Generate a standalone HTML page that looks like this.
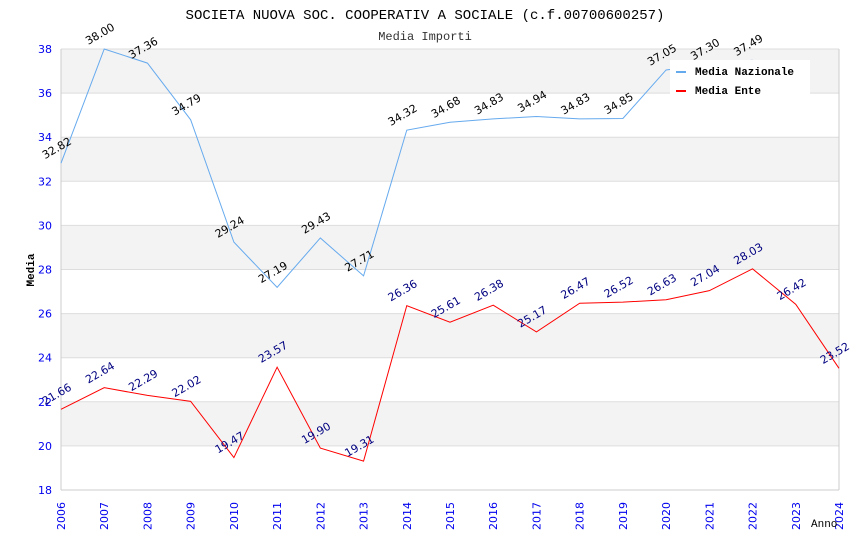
<!DOCTYPE html>
<html><head><meta charset="utf-8"><style>
body{margin:0;background:#fff}
svg{display:block;font-family:"DejaVu Sans","Liberation Sans",sans-serif}
</style></head><body>
<svg id="c" width="850" height="550">
<text x="425" y="19" text-anchor="middle" font-family="Liberation Mono, monospace" font-size="14" fill="#000">SOCIETA NUOVA SOC. COOPERATIV A SOCIALE (c.f.00700600257)</text>
<text x="425" y="40" text-anchor="middle" font-family="Liberation Mono, monospace" font-size="12" fill="#333">Media Importi</text>
<g id="bands"></g><g id="grid"></g><g id="axes"></g><g id="series"></g><g id="labels"></g>
<text x="34" y="270" transform="rotate(-90 34 270)" text-anchor="middle" font-family="Liberation Mono, monospace" font-weight="bold" font-size="11">Media</text>
<text x="811" y="527" font-family="Liberation Mono, monospace" font-size="11">Anno</text>
<g>
<rect x="670" y="60" width="140" height="40" fill="#fff"/>
<line x1="676" y1="72" x2="686" y2="72" stroke="#66aaee" stroke-width="2"/>
<text x="695" y="75" font-family="Liberation Mono, monospace" font-weight="bold" font-size="11">Media Nazionale</text>
<line x1="676" y1="91" x2="686" y2="91" stroke="#ff0000" stroke-width="2"/>
<text x="695" y="94" font-family="Liberation Mono, monospace" font-weight="bold" font-size="11">Media Ente</text>
</g>
</svg>
<script>
const years=[2006,2007,2008,2009,2010,2011,2012,2013,2014,2015,2016,2017,2018,2019,2020,2021,2022,2023,2024];
const nazionale=[32.82,38.00,37.36,34.79,29.24,27.19,29.43,27.71,34.32,34.68,34.83,34.94,34.83,34.85,37.05,37.3,37.49,null,null];
const ente=[21.66,22.64,22.29,22.02,19.47,23.57,19.90,19.31,26.36,25.61,26.38,25.17,26.47,26.52,26.63,27.04,28.03,26.42,23.52];
const yTicks=[18,20,22,24,26,28,30,32,34,36,38];
const X0=61,X1=839,Y0=490,Y1=49,ymin=18,ymax=38;
const xs=i=>X0+(X1-X0)*i/(years.length-1);
const ys=v=>Y0-(v-ymin)/(ymax-ymin)*(Y0-Y1);
const NS="http://www.w3.org/2000/svg";
function mk(p,t,a){const e=document.createElementNS(NS,t);for(const k in a)e.setAttribute(k,a[k]);p.appendChild(e);return e;}
const bands=document.getElementById('bands'),grid=document.getElementById('grid'),axes=document.getElementById('axes'),ser=document.getElementById('series'),lab=document.getElementById('labels');
for(let i=0;i<yTicks.length-1;i++){
 if((yTicks.length-2-i)%2===0){const r=mk(bands,'rect',{x:X0,y:ys(yTicks[i+1]),width:X1-X0,height:ys(yTicks[i])-ys(yTicks[i+1]),fill:'#f3f3f3'});
 
 }
}
yTicks.forEach(v=>{
 const l=mk(grid,'line',{x1:X0,x2:X1,y1:ys(v),y2:ys(v),stroke:'#dddddd'});
 
 
 const t=mk(axes,'text',{x:X0-9,y:ys(v)+4,'text-anchor':'end','font-size':'11',fill:'#0000ee'});
 t.textContent=v;
 
 
});
mk(axes,'line',{x1:X0,x2:X0,y1:Y1,y2:Y0,stroke:'#ccc'});
mk(axes,'line',{x1:X1,x2:X1,y1:Y1,y2:Y0,stroke:'#ccc'});
mk(axes,'line',{x1:X0,x2:X1,y1:Y0,y2:Y0,stroke:'#ccc'});
years.forEach((y,i)=>{
 const x=xs(i)+4,yy=530;
 const t=mk(axes,'text',{x:x,y:yy,transform:`rotate(-90 ${x} ${yy})`,'font-size':'11',fill:'#0000ee'});
 t.textContent=y;
 
 
});
function draw(vals,color,lc,name){
 let d='';vals.forEach((v,i)=>{if(v==null)return;d+=(d?'L':'M')+xs(i)+' '+ys(v);});
 const p=mk(ser,'path',{d:d,fill:'none',stroke:color,'stroke-width':1});
 
 
 vals.forEach((v,i)=>{if(v==null)return;const x=xs(i)-16,y=ys(v)-4;
  const t=mk(lab,'text',{x:x,y:y,transform:`rotate(-30 ${x} ${y})`,'font-size':'11',fill:lc});
  t.textContent=v.toFixed(2);
  
  });
}
draw(nazionale,'#66aaee','#000','nazionale');
draw(ente,'#ff0000','#000080','ente');
</script>
</body></html>
